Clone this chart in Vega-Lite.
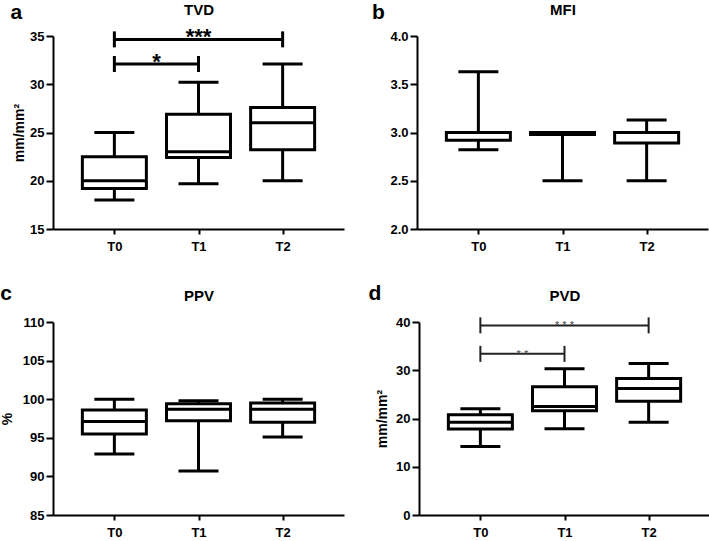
{
  "$schema": "https://vega.github.io/schema/vega-lite/v6.json",
  "padding": {"left": 0, "top": 2, "right": 0, "bottom": 0},
  "background": "white",
  "datasets": {
    "boxes": [
      {"panel": "a", "t": 0, "min": 18.0, "q1": 19.2, "med": 20.0, "q3": 22.5, "max": 25.0},
      {"panel": "a", "t": 1, "min": 19.7, "q1": 22.4, "med": 23.0, "q3": 26.9, "max": 30.2},
      {"panel": "a", "t": 2, "min": 20.0, "q1": 23.2, "med": 26.0, "q3": 27.6, "max": 32.1},
      {"panel": "b", "t": 0, "min": 2.82, "q1": 2.92, "med": 3.0, "q3": 3.0, "max": 3.63},
      {"panel": "b", "t": 1, "min": 2.5, "q1": 2.98, "med": 3.0, "q3": 3.0, "max": 3.0},
      {"panel": "b", "t": 2, "min": 2.5, "q1": 2.89, "med": 3.0, "q3": 3.0, "max": 3.13},
      {"panel": "c", "t": 0, "min": 92.9, "q1": 95.5, "med": 97.1, "q3": 98.6, "max": 100.0},
      {"panel": "c", "t": 1, "min": 90.7, "q1": 97.2, "med": 98.7, "q3": 99.4, "max": 99.8},
      {"panel": "c", "t": 2, "min": 95.1, "q1": 97.0, "med": 98.7, "q3": 99.5, "max": 100.0},
      {"panel": "d", "t": 0, "min": 14.2, "q1": 17.8, "med": 19.2, "q3": 20.8, "max": 22.0},
      {"panel": "d", "t": 1, "min": 17.9, "q1": 21.6, "med": 22.5, "q3": 26.6, "max": 30.3},
      {"panel": "d", "t": 2, "min": 19.2, "q1": 23.6, "med": 26.2, "q3": 28.3, "max": 31.4}
    ],
    "sig": [
      {"panel": "a", "x1": 0, "x2": 2, "xm": 1, "y": 34.65, "label": "***"},
      {"panel": "a", "x1": 0, "x2": 1, "xm": 0.5, "y": 32.1, "label": "*"},
      {"panel": "d", "x1": 0, "x2": 2, "xm": 1, "y": 39.3, "label": "* * *"},
      {"panel": "d", "x1": 0, "x2": 1, "xm": 0.5, "y": 33.4, "label": "* *"}
    ]
  },
  "vconcat": [
    {
      "hconcat": [
        {
          "width": 291, "height": 193,
          "title": {"text": "a", "anchor": "start", "frame": "bounds", "fontSize": 21, "fontWeight": "bold", "baseline": "alphabetic", "offset": -38, "dx": -2},
          "resolve": {"axis": {"x": "independent"}},
          "layer": [
            {"data": {"name": "boxes"}, "transform": [{"filter": "datum.panel === 'a'"}], "mark": {"type": "rule", "strokeWidth": 3, "color": "black"},
             "encoding": {
               "x": {"field": "t", "type": "quantitative", "scale": {"domain": [-0.67, 2.67], "nice": false, "zero": false}, "axis": {"values": [0, 1, 2], "labelExpr": "'T' + datum.value", "title": null}},
               "y": {"field": "min", "type": "quantitative", "title": "mm/mm²", "scale": {"domain": [15, 35], "nice": false, "zero": false}, "axis": {"values": [15, 20, 25, 30, 35], "tickCount": 5, "labelOverlap": false, "labelSeparation": 0, "labelBound": false, "titlePadding": 3}}, "y2": {"field": "max"}}},
            {"data": {"name": "boxes"}, "transform": [{"filter": "datum.panel === 'a'"}], "mark": {"type": "bar", "size": 40, "color": "black", "stroke": "black", "strokeWidth": 3},
             "encoding": {
               "x": {"field": "t", "type": "quantitative", "scale": {"domain": [-0.67, 2.67], "nice": false, "zero": false}, "axis": {"orient": "top", "title": "TVD", "labels": false, "ticks": false, "domain": false, "minExtent": 0, "maxExtent": 0, "titleFontSize": 15, "titlePadding": 22, "titleBaseline": "alphabetic"}},
               "y": {"field": "min", "type": "quantitative", "title": "mm/mm²", "scale": {"domain": [15, 35], "nice": false, "zero": false}}, "y2": {"field": "min"}}},
            {"data": {"name": "boxes"}, "transform": [{"filter": "datum.panel === 'a'"}], "mark": {"type": "bar", "size": 40, "color": "black", "stroke": "black", "strokeWidth": 3},
             "encoding": {
               "x": {"field": "t", "type": "quantitative", "scale": {"domain": [-0.67, 2.67], "nice": false, "zero": false}, "axis": null},
               "y": {"field": "max", "type": "quantitative", "title": "mm/mm²", "scale": {"domain": [15, 35], "nice": false, "zero": false}}, "y2": {"field": "max"}}},
            {"data": {"name": "boxes"}, "transform": [{"filter": "datum.panel === 'a'"}], "mark": {"type": "bar", "size": 64, "fill": "white", "stroke": "black", "strokeWidth": 3},
             "encoding": {
               "x": {"field": "t", "type": "quantitative", "scale": {"domain": [-0.67, 2.67], "nice": false, "zero": false}, "axis": null},
               "y": {"field": "q1", "type": "quantitative", "title": "mm/mm²", "scale": {"domain": [15, 35], "nice": false, "zero": false}}, "y2": {"field": "q3"}}},
            {"data": {"name": "boxes"}, "transform": [{"filter": "datum.panel === 'a'"}], "mark": {"type": "bar", "size": 64, "color": "black", "stroke": "black", "strokeWidth": 3},
             "encoding": {
               "x": {"field": "t", "type": "quantitative", "scale": {"domain": [-0.67, 2.67], "nice": false, "zero": false}, "axis": null},
               "y": {"field": "med", "type": "quantitative", "title": "mm/mm²", "scale": {"domain": [15, 35], "nice": false, "zero": false}}, "y2": {"field": "med"}}},
            {"data": {"name": "sig"}, "transform": [{"filter": "datum.panel === 'a'"}], "mark": {"type": "rule", "strokeWidth": 3, "color": "black"},
             "encoding": {
               "x": {"field": "x1", "type": "quantitative", "scale": {"domain": [-0.67, 2.67], "nice": false, "zero": false}, "axis": null}, "x2": {"field": "x2"},
               "y": {"field": "y", "type": "quantitative", "title": "mm/mm²", "scale": {"domain": [15, 35], "nice": false, "zero": false}}}},
            {"data": {"name": "sig"}, "transform": [{"filter": "datum.panel === 'a'"}], "mark": {"type": "rule", "strokeWidth": 3, "color": "black", "yOffset": -8, "y2Offset": 8},
             "encoding": {
               "x": {"field": "x1", "type": "quantitative", "scale": {"domain": [-0.67, 2.67], "nice": false, "zero": false}, "axis": null},
               "y": {"field": "y", "type": "quantitative", "title": "mm/mm²", "scale": {"domain": [15, 35], "nice": false, "zero": false}}, "y2": {"field": "y"}}},
            {"data": {"name": "sig"}, "transform": [{"filter": "datum.panel === 'a'"}], "mark": {"type": "rule", "strokeWidth": 3, "color": "black", "yOffset": -8, "y2Offset": 8},
             "encoding": {
               "x": {"field": "x2", "type": "quantitative", "scale": {"domain": [-0.67, 2.67], "nice": false, "zero": false}, "axis": null},
               "y": {"field": "y", "type": "quantitative", "title": "mm/mm²", "scale": {"domain": [15, 35], "nice": false, "zero": false}}, "y2": {"field": "y"}}},
            {"data": {"name": "sig"}, "transform": [{"filter": "datum.panel === 'a'"}], "mark": {"type": "text", "fontSize": 22, "fontWeight": "bold", "baseline": "alphabetic", "dy": 5, "color": "black"},
             "encoding": {
               "x": {"field": "xm", "type": "quantitative", "scale": {"domain": [-0.67, 2.67], "nice": false, "zero": false}, "axis": null},
               "y": {"field": "y", "type": "quantitative", "title": "mm/mm²", "scale": {"domain": [15, 35], "nice": false, "zero": false}}, "text": {"field": "label"}}}
          ]
        },
        {
          "width": 291, "height": 193,
          "title": {"text": "b", "anchor": "start", "frame": "bounds", "fontSize": 21, "fontWeight": "bold", "baseline": "alphabetic", "offset": -38, "dx": -18},
          "resolve": {"axis": {"x": "independent"}},
          "layer": [
            {"data": {"name": "boxes"}, "transform": [{"filter": "datum.panel === 'b'"}], "mark": {"type": "rule", "strokeWidth": 3, "color": "black"},
             "encoding": {
               "x": {"field": "t", "type": "quantitative", "scale": {"domain": [-0.67, 2.67], "nice": false, "zero": false}, "axis": {"values": [0, 1, 2], "labelExpr": "'T' + datum.value", "title": null}},
               "y": {"field": "min", "type": "quantitative", "title": null, "scale": {"domain": [2, 4], "nice": false, "zero": false}, "axis": {"values": [2, 2.5, 3, 3.5, 4], "tickCount": 5, "format": ".1f", "labelOverlap": false, "labelSeparation": 0, "labelBound": false}}, "y2": {"field": "max"}}},
            {"data": {"name": "boxes"}, "transform": [{"filter": "datum.panel === 'b'"}], "mark": {"type": "bar", "size": 40, "color": "black", "stroke": "black", "strokeWidth": 3},
             "encoding": {
               "x": {"field": "t", "type": "quantitative", "scale": {"domain": [-0.67, 2.67], "nice": false, "zero": false}, "axis": {"orient": "top", "title": "MFI", "labels": false, "ticks": false, "domain": false, "minExtent": 0, "maxExtent": 0, "titleFontSize": 15, "titlePadding": 22, "titleBaseline": "alphabetic"}},
               "y": {"field": "min", "type": "quantitative", "title": null, "scale": {"domain": [2, 4], "nice": false, "zero": false}}, "y2": {"field": "min"}}},
            {"data": {"name": "boxes"}, "transform": [{"filter": "datum.panel === 'b'"}], "mark": {"type": "bar", "size": 40, "color": "black", "stroke": "black", "strokeWidth": 3},
             "encoding": {
               "x": {"field": "t", "type": "quantitative", "scale": {"domain": [-0.67, 2.67], "nice": false, "zero": false}, "axis": null},
               "y": {"field": "max", "type": "quantitative", "title": null, "scale": {"domain": [2, 4], "nice": false, "zero": false}}, "y2": {"field": "max"}}},
            {"data": {"name": "boxes"}, "transform": [{"filter": "datum.panel === 'b'"}], "mark": {"type": "bar", "size": 64, "fill": "white", "stroke": "black", "strokeWidth": 3},
             "encoding": {
               "x": {"field": "t", "type": "quantitative", "scale": {"domain": [-0.67, 2.67], "nice": false, "zero": false}, "axis": null},
               "y": {"field": "q1", "type": "quantitative", "title": null, "scale": {"domain": [2, 4], "nice": false, "zero": false}}, "y2": {"field": "q3"}}},
            {"data": {"name": "boxes"}, "transform": [{"filter": "datum.panel === 'b'"}], "mark": {"type": "bar", "size": 64, "color": "black", "stroke": "black", "strokeWidth": 3},
             "encoding": {
               "x": {"field": "t", "type": "quantitative", "scale": {"domain": [-0.67, 2.67], "nice": false, "zero": false}, "axis": null},
               "y": {"field": "med", "type": "quantitative", "title": null, "scale": {"domain": [2, 4], "nice": false, "zero": false}}, "y2": {"field": "med"}}}
          ]
        }
      ],
      "spacing": 27
    },
    {
      "hconcat": [
        {
          "width": 291, "height": 193,
          "title": {"text": "c", "anchor": "start", "frame": "bounds", "fontSize": 21, "fontWeight": "bold", "baseline": "alphabetic", "offset": -33, "dx": 0},
          "resolve": {"axis": {"x": "independent"}},
          "layer": [
            {"data": {"name": "boxes"}, "transform": [{"filter": "datum.panel === 'c'"}], "mark": {"type": "rule", "strokeWidth": 3, "color": "black"},
             "encoding": {
               "x": {"field": "t", "type": "quantitative", "scale": {"domain": [-0.67, 2.67], "nice": false, "zero": false}, "axis": {"values": [0, 1, 2], "labelExpr": "'T' + datum.value", "title": null}},
               "y": {"field": "min", "type": "quantitative", "title": "%", "scale": {"domain": [85, 110], "nice": false, "zero": false}, "axis": {"values": [85, 90, 95, 100, 105, 110], "tickCount": 6, "labelOverlap": false, "labelSeparation": 0, "labelBound": false, "titlePadding": 8}}, "y2": {"field": "max"}}},
            {"data": {"name": "boxes"}, "transform": [{"filter": "datum.panel === 'c'"}], "mark": {"type": "bar", "size": 40, "color": "black", "stroke": "black", "strokeWidth": 3},
             "encoding": {
               "x": {"field": "t", "type": "quantitative", "scale": {"domain": [-0.67, 2.67], "nice": false, "zero": false}, "axis": {"orient": "top", "title": "PPV", "labels": false, "ticks": false, "domain": false, "minExtent": 0, "maxExtent": 0, "titleFontSize": 15, "titlePadding": 22, "titleBaseline": "alphabetic"}},
               "y": {"field": "min", "type": "quantitative", "title": "%", "scale": {"domain": [85, 110], "nice": false, "zero": false}}, "y2": {"field": "min"}}},
            {"data": {"name": "boxes"}, "transform": [{"filter": "datum.panel === 'c'"}], "mark": {"type": "bar", "size": 40, "color": "black", "stroke": "black", "strokeWidth": 3},
             "encoding": {
               "x": {"field": "t", "type": "quantitative", "scale": {"domain": [-0.67, 2.67], "nice": false, "zero": false}, "axis": null},
               "y": {"field": "max", "type": "quantitative", "title": "%", "scale": {"domain": [85, 110], "nice": false, "zero": false}}, "y2": {"field": "max"}}},
            {"data": {"name": "boxes"}, "transform": [{"filter": "datum.panel === 'c'"}], "mark": {"type": "bar", "size": 64, "fill": "white", "stroke": "black", "strokeWidth": 3},
             "encoding": {
               "x": {"field": "t", "type": "quantitative", "scale": {"domain": [-0.67, 2.67], "nice": false, "zero": false}, "axis": null},
               "y": {"field": "q1", "type": "quantitative", "title": "%", "scale": {"domain": [85, 110], "nice": false, "zero": false}}, "y2": {"field": "q3"}}},
            {"data": {"name": "boxes"}, "transform": [{"filter": "datum.panel === 'c'"}], "mark": {"type": "bar", "size": 64, "color": "black", "stroke": "black", "strokeWidth": 3},
             "encoding": {
               "x": {"field": "t", "type": "quantitative", "scale": {"domain": [-0.67, 2.67], "nice": false, "zero": false}, "axis": null},
               "y": {"field": "med", "type": "quantitative", "title": "%", "scale": {"domain": [85, 110], "nice": false, "zero": false}}, "y2": {"field": "med"}}}
          ]
        },
        {
          "width": 291, "height": 193,
          "title": {"text": "d", "anchor": "start", "frame": "bounds", "fontSize": 21, "fontWeight": "bold", "baseline": "alphabetic", "offset": -33, "dx": -7},
          "resolve": {"axis": {"x": "independent"}},
          "layer": [
            {"data": {"name": "boxes"}, "transform": [{"filter": "datum.panel === 'd'"}], "mark": {"type": "rule", "strokeWidth": 3, "color": "black"},
             "encoding": {
               "x": {"field": "t", "type": "quantitative", "scale": {"domain": [-0.67, 2.67], "nice": false, "zero": false}, "axis": {"values": [0, 1, 2], "labelExpr": "'T' + datum.value", "title": null}},
               "y": {"field": "min", "type": "quantitative", "title": "mm/mm²", "scale": {"domain": [0, 40], "nice": false, "zero": false}, "axis": {"values": [0, 10, 20, 30, 40], "tickCount": 5, "labelOverlap": false, "labelSeparation": 0, "labelBound": false, "titlePadding": 6}}, "y2": {"field": "max"}}},
            {"data": {"name": "boxes"}, "transform": [{"filter": "datum.panel === 'd'"}], "mark": {"type": "bar", "size": 40, "color": "black", "stroke": "black", "strokeWidth": 3},
             "encoding": {
               "x": {"field": "t", "type": "quantitative", "scale": {"domain": [-0.67, 2.67], "nice": false, "zero": false}, "axis": {"orient": "top", "title": "PVD", "labels": false, "ticks": false, "domain": false, "minExtent": 0, "maxExtent": 0, "titleFontSize": 15, "titlePadding": 22, "titleBaseline": "alphabetic"}},
               "y": {"field": "min", "type": "quantitative", "title": "mm/mm²", "scale": {"domain": [0, 40], "nice": false, "zero": false}}, "y2": {"field": "min"}}},
            {"data": {"name": "boxes"}, "transform": [{"filter": "datum.panel === 'd'"}], "mark": {"type": "bar", "size": 40, "color": "black", "stroke": "black", "strokeWidth": 3},
             "encoding": {
               "x": {"field": "t", "type": "quantitative", "scale": {"domain": [-0.67, 2.67], "nice": false, "zero": false}, "axis": null},
               "y": {"field": "max", "type": "quantitative", "title": "mm/mm²", "scale": {"domain": [0, 40], "nice": false, "zero": false}}, "y2": {"field": "max"}}},
            {"data": {"name": "boxes"}, "transform": [{"filter": "datum.panel === 'd'"}], "mark": {"type": "bar", "size": 64, "fill": "white", "stroke": "black", "strokeWidth": 3},
             "encoding": {
               "x": {"field": "t", "type": "quantitative", "scale": {"domain": [-0.67, 2.67], "nice": false, "zero": false}, "axis": null},
               "y": {"field": "q1", "type": "quantitative", "title": "mm/mm²", "scale": {"domain": [0, 40], "nice": false, "zero": false}}, "y2": {"field": "q3"}}},
            {"data": {"name": "boxes"}, "transform": [{"filter": "datum.panel === 'd'"}], "mark": {"type": "bar", "size": 64, "color": "black", "stroke": "black", "strokeWidth": 3},
             "encoding": {
               "x": {"field": "t", "type": "quantitative", "scale": {"domain": [-0.67, 2.67], "nice": false, "zero": false}, "axis": null},
               "y": {"field": "med", "type": "quantitative", "title": "mm/mm²", "scale": {"domain": [0, 40], "nice": false, "zero": false}}, "y2": {"field": "med"}}},
            {"data": {"name": "sig"}, "transform": [{"filter": "datum.panel === 'd'"}], "mark": {"type": "rule", "strokeWidth": 2, "color": "#222"},
             "encoding": {
               "x": {"field": "x1", "type": "quantitative", "scale": {"domain": [-0.67, 2.67], "nice": false, "zero": false}, "axis": null}, "x2": {"field": "x2"},
               "y": {"field": "y", "type": "quantitative", "title": "mm/mm²", "scale": {"domain": [0, 40], "nice": false, "zero": false}}}},
            {"data": {"name": "sig"}, "transform": [{"filter": "datum.panel === 'd'"}], "mark": {"type": "rule", "strokeWidth": 2, "color": "#222", "yOffset": -8, "y2Offset": 8},
             "encoding": {
               "x": {"field": "x1", "type": "quantitative", "scale": {"domain": [-0.67, 2.67], "nice": false, "zero": false}, "axis": null},
               "y": {"field": "y", "type": "quantitative", "title": "mm/mm²", "scale": {"domain": [0, 40], "nice": false, "zero": false}}, "y2": {"field": "y"}}},
            {"data": {"name": "sig"}, "transform": [{"filter": "datum.panel === 'd'"}], "mark": {"type": "rule", "strokeWidth": 2, "color": "#222", "yOffset": -8, "y2Offset": 8},
             "encoding": {
               "x": {"field": "x2", "type": "quantitative", "scale": {"domain": [-0.67, 2.67], "nice": false, "zero": false}, "axis": null},
               "y": {"field": "y", "type": "quantitative", "title": "mm/mm²", "scale": {"domain": [0, 40], "nice": false, "zero": false}}, "y2": {"field": "y"}}},
            {"data": {"name": "sig"}, "transform": [{"filter": "datum.panel === 'd'"}], "mark": {"type": "text", "fontSize": 11, "fontWeight": "normal", "baseline": "alphabetic", "dy": 4, "color": "#444"},
             "encoding": {
               "x": {"field": "xm", "type": "quantitative", "scale": {"domain": [-0.67, 2.67], "nice": false, "zero": false}, "axis": null},
               "y": {"field": "y", "type": "quantitative", "title": "mm/mm²", "scale": {"domain": [0, 40], "nice": false, "zero": false}}, "text": {"field": "label"}}}
          ]
        }
      ],
      "spacing": 24
    }
  ],
  "spacing": 30,
  "config": {
    "font": "Liberation Sans",
    "view": {"stroke": null},
    "title": {"color": "black", "font": "Liberation Sans"},
    "axis": {
      "grid": false,
      "domainColor": "black", "domainWidth": 2,
      "tickColor": "black", "tickWidth": 2, "tickSize": 7,
      "labelFont": "Liberation Sans", "labelFontSize": 13, "labelFontWeight": "bold", "labelColor": "black",
      "labelPadding": 2, "labelFlush": false, "labelOverlap": false,
      "titleFont": "Liberation Sans", "titleFontSize": 14, "titleFontWeight": "bold", "titleColor": "black", "titlePadding": 5
    },
    "axisX": {"tickSize": 5, "labelPadding": 6}
  }
}
